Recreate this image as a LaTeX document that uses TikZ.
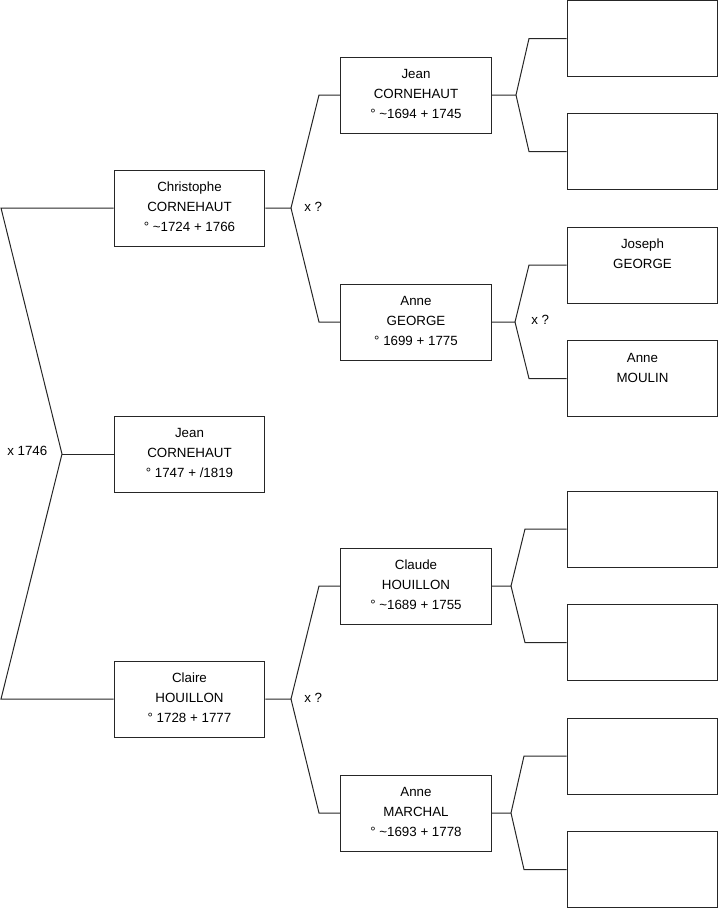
\documentclass[tikz,border=0pt]{standalone}
\usepackage{fontspec}
\setmainfont{Liberation Sans}
\newcommand\gstr{\rule[-4.7pt]{0pt}{15pt}}
\begin{document}
\begin{tikzpicture}[x=0.75pt,y=-0.75pt,
  person/.style={draw=black!85,line width=0.75pt,fill=white,inner sep=0pt,
    minimum width=113pt,minimum height=57pt,align=center,
    font=\fontsize{10pt}{15pt}\selectfont},
  conn/.style={draw=black!85,line width=0.75pt},
  lbl/.style={font=\fontsize{10pt}{12pt}\selectfont,inner sep=0pt}]
\useasboundingbox (0,0) rectangle (719,908);
% generation 1
\node[person] (chris) at (189.5,208) {\gstr Christophe\\\gstr CORNEHAUT\\\gstr ° \textasciitilde1724 + 1766};
\node[person] (jeanc) at (189.5,454) {\gstr Jean\\\gstr CORNEHAUT\\\gstr ° 1747 + /1819};
\node[person] (claire) at (189.5,699) {\gstr Claire\\\gstr HOUILLON\\\gstr ° 1728 + 1777};
% generation 2
\node[person] (jean2) at (416,95) {\gstr Jean\\\gstr CORNEHAUT\\\gstr ° \textasciitilde1694 + 1745};
\node[person] (anneg) at (416,322) {\gstr Anne\\\gstr GEORGE\\\gstr ° 1699 + 1775};
\node[person] (claude) at (416,586) {\gstr Claude\\\gstr HOUILLON\\\gstr ° \textasciitilde1689 + 1755};
\node[person] (marchal) at (416,813) {\gstr Anne\\\gstr MARCHAL\\\gstr ° \textasciitilde1693 + 1778};
% generation 3
\node[person] (p1) at (642.5,38.5) {};
\node[person] (p2) at (642.5,151.5) {};
\node[person] (joseph) at (642.5,265) {\gstr Joseph\\\gstr GEORGE\\\gstr};
\node[person] (moulin) at (642.5,378.5) {\gstr Anne\\\gstr MOULIN\\\gstr};
\node[person] (p5) at (642.5,529) {};
\node[person] (p6) at (642.5,642.5) {};
\node[person] (p7) at (642.5,756) {};
\node[person] (p8) at (642.5,869.5) {};
% bracket points
\coordinate (a1) at (1,208);
\coordinate (a2) at (1,699);
\coordinate (v0) at (62,454);
\coordinate (v1) at (291,208);
\coordinate (b1) at (319,95);
\coordinate (b2) at (319,322);
\coordinate (v4) at (291,699);
\coordinate (b3) at (319,586);
\coordinate (b4) at (319,813);
\coordinate (v2) at (516,95);
\coordinate (c1) at (529,38.5);
\coordinate (c2) at (529,151.5);
\coordinate (v3) at (515,322);
\coordinate (c3) at (529,265);
\coordinate (c4) at (529,378.5);
\coordinate (v5) at (511,586);
\coordinate (c5) at (525,529);
\coordinate (c6) at (525,642.5);
\coordinate (v6) at (511,813);
\coordinate (c7) at (524,756);
\coordinate (c8) at (524,869.5);
% connectors
\draw[conn] (chris.west) -- (a1) -- (v0) -- (a2) -- (claire.west);
\draw[conn] (v0) -- (jeanc.west);
\draw[conn] (chris.east) -- (v1) -- (b1) -- (jean2.west);
\draw[conn] (v1) -- (b2) -- (anneg.west);
\draw[conn] (claire.east) -- (v4) -- (b3) -- (claude.west);
\draw[conn] (v4) -- (b4) -- (marchal.west);
\draw[conn] (jean2.east) -- (v2) -- (c1) -- (p1.west);
\draw[conn] (v2) -- (c2) -- (p2.west);
\draw[conn] (anneg.east) -- (v3) -- (c3) -- (joseph.west);
\draw[conn] (v3) -- (c4) -- (moulin.west);
\draw[conn] (claude.east) -- (v5) -- (c5) -- (p5.west);
\draw[conn] (v5) -- (c6) -- (p6.west);
\draw[conn] (marchal.east) -- (v6) -- (c7) -- (p7.west);
\draw[conn] (v6) -- (c8) -- (p8.west);
% marriage labels
\node[lbl,anchor=west] (m0) at (7,451) {x 1746};
\node[lbl,anchor=west] (m1) at (304,207) {x ?};
\node[lbl,anchor=west] (m2) at (304,698) {x ?};
\node[lbl,anchor=west] (m3) at (531,320) {x ?};
\end{tikzpicture}
\end{document}
